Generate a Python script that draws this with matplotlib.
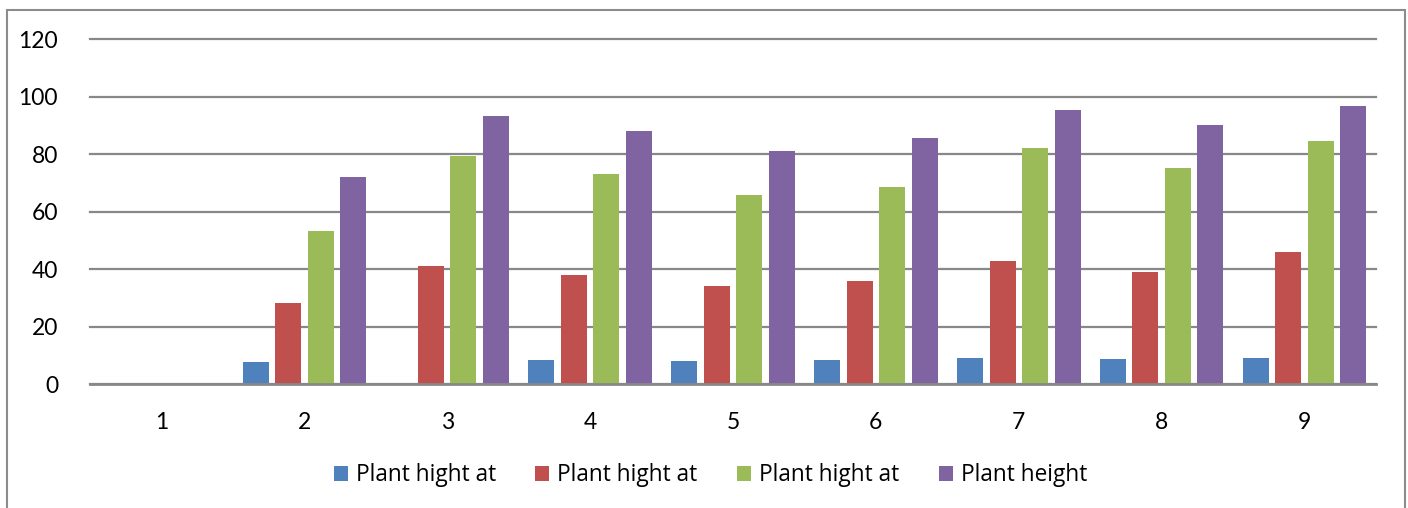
import numpy as np
import matplotlib.pyplot as plt
from matplotlib.patches import Rectangle

categories = ['1', '2', '3', '4', '5', '6', '7', '8', '9']
series_names = ['Plant hight at', 'Plant hight at', 'Plant hight at', 'Plant height']
blue = [0, 7.7, 0, 8.6, 8.0, 8.6, 9.0, 8.8, 9.2]
red = [0, 28.2, 41.1, 38.0, 34.2, 36.0, 43.0, 39.1, 46.0]
green = [0, 53.3, 79.4, 73.0, 65.7, 68.7, 82.2, 75.3, 84.5]
purple = [0, 72.1, 93.3, 88.1, 81.2, 85.6, 95.5, 90.0, 96.9]
colors = ['#4F81BD', '#C0504D', '#9BBB59', '#8064A2']

font = ['Lato', 'DejaVu Sans']
legend_font = ['Open Sans', 'DejaVu Sans']

fig = plt.figure(figsize=(14.08, 5.08), dpi=100)
ax = fig.add_axes([90 / 1408, 1 - 384.3 / 508, (1376 - 90) / 1408, (384.3 - 39.2) / 508])

x = np.arange(len(categories))
pitch = 0.2275
width = 0.182
for i, (vals, c, name) in enumerate(zip([blue, red, green, purple], colors, series_names)):
    ax.bar(x + (i - 1.5) * pitch, vals, width, color=c, label=name, zorder=3, linewidth=0)

ax.set_xlim(-0.5, len(categories) - 0.5)
ax.set_ylim(0, 120)
ax.set_yticks(range(0, 121, 20))
ax.set_xticks(x)
ax.set_xticklabels(categories)
ax.yaxis.grid(True, color='#888888', linewidth=1.6, zorder=0)
for gl in ax.get_ygridlines():
    gl.set_clip_on(False)
ax.set_axisbelow(True)
for s in ['top', 'right', 'left']:
    ax.spines[s].set_visible(False)
ax.spines['bottom'].set_color('#888888')
ax.spines['bottom'].set_linewidth(2)
ax.spines['bottom'].set_zorder(4)
ax.tick_params(axis='both', length=0, labelsize=16.5, colors='black')
ax.tick_params(axis='y', pad=23)
ax.tick_params(axis='x', pad=20)
for lbl in ax.get_xticklabels() + ax.get_yticklabels():
    lbl.set_family(font)

fig.legend(loc='center', bbox_to_anchor=(0.5046, 0.064), ncol=4, frameon=False,
           prop={'family': legend_font, 'size': 16.3},
           handlelength=0.62, handleheight=0.62, handletextpad=0.35, columnspacing=1.75)

# outer chart border (open at bottom, like the cropped original)
fig.patches.append(Rectangle((7 / 1408, -0.05), (1405 - 7) / 1408, 1.05 - 10 / 508,
                             transform=fig.transFigure, fill=False,
                             edgecolor='#8c8c8c', linewidth=1.5))

fig.savefig('out.png', dpi=100)
